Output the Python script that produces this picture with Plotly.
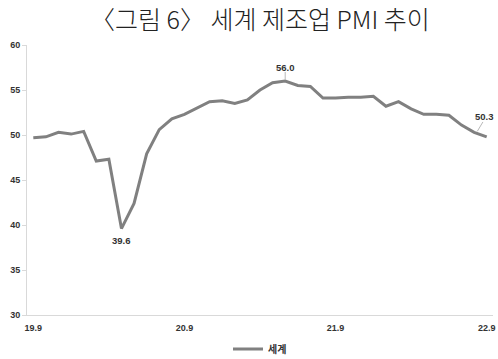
import plotly.graph_objects as go

# Global manufacturing PMI, monthly from 2019.9 to 2022.9
months = [
    "19.9", "19.10", "19.11", "19.12", "20.1", "20.2", "20.3", "20.4", "20.5",
    "20.6", "20.7", "20.8", "20.9", "20.10", "20.11", "20.12", "21.1", "21.2",
    "21.3", "21.4", "21.5", "21.6", "21.7", "21.8", "21.9", "21.10", "21.11",
    "21.12", "22.1", "22.2", "22.3", "22.4", "22.5", "22.6", "22.7", "22.8", "22.9",
]
pmi = [
    49.7, 49.8, 50.3, 50.1, 50.4, 47.1, 47.3, 39.6, 42.4,
    47.9, 50.6, 51.8, 52.3, 53.0, 53.7, 53.8, 53.5, 53.9,
    55.0, 55.8, 56.0, 55.5, 55.4, 54.1, 54.1, 54.2, 54.2,
    54.3, 53.2, 53.7, 52.9, 52.3, 52.3, 52.2, 51.1, 50.3, 49.8,
]
tick_labels = ["19.9", "20.9", "21.9", "22.9"]
y_ticks = [30, 35, 40, 45, 50, 55, 60]
# month -> (label shift in months, label shift in PMI points, leader line or None)
labelled = {
    "20.4": (0.0, -1.3, None),
    "21.5": (0.0, 1.5, ((0.0, 0.15), (0.0, 1.0))),
    "22.8": (0.85, 1.8, ((0.25, 0.1), (0.7, 1.15))),
}

idx = list(range(len(months)))
fig = go.Figure()
fig.add_trace(go.Scatter(
    x=idx, y=pmi, mode="lines", name="세계",
    line=dict(color="#808080", width=3),
))

for m, (dx, dy, leader) in labelled.items():
    i = months.index(m)
    fig.add_annotation(
        x=i + dx, y=pmi[i] + dy, text=f"{pmi[i]:.1f}",
        xref="x", yref="y", showarrow=False,
        xanchor="center", yanchor="middle",
        font=dict(family="Liberation Sans", size=9.5, color="#333333", weight="bold"),
    )
    if leader:
        (x0, y0), (x1, y1) = leader
        fig.add_shape(
            type="line", xref="x", yref="y",
            x0=i + x0, y0=pmi[i] + y0, x1=i + x1, y1=pmi[i] + y1,
            line=dict(color="#a6a6a6", width=0.8),
        )

tick_pos = [months.index(t) for t in tick_labels]
fig.update_layout(
    width=498, height=359,
    margin=dict(l=27, r=5, t=45, b=44, autoexpand=False),
    paper_bgcolor="white", plot_bgcolor="white",
    title=dict(
        text="〈그림 6〉 세계 제조업 PMI 추이",
        x=0.522, xanchor="center", y=0.945, yanchor="middle",
        font=dict(family="Noto Sans CJK KR", size=25, color="#222222", weight=300),
    ),
    xaxis=dict(
        range=[-0.5, len(months) - 0.5],
        tickvals=tick_pos, ticktext=tick_labels,
        showgrid=False, zeroline=False,
        showline=True, linecolor="#d9d9d9", linewidth=1,
        ticks="outside", ticklen=4, tickcolor="rgba(0,0,0,0)",
        tickfont=dict(family="Liberation Sans", size=9, color="#333333", weight="bold"),
    ),
    yaxis=dict(
        range=[30, 60], tickvals=y_ticks,
        showgrid=False, zeroline=False,
        showline=True, linecolor="#d9d9d9", linewidth=1,
        ticks="outside", ticklen=4, tickcolor="#d9d9d9",
        tickfont=dict(family="Liberation Sans", size=9, color="#333333", weight="bold"),
    ),
    showlegend=True,
    legend=dict(
        orientation="h", x=0.5, xanchor="center",
        yref="container", y=0.028, yanchor="middle",
        font=dict(family="Noto Sans CJK KR", size=10, color="#333333", weight="bold"),
        itemwidth=30,
    ),
)

fig.write_html("out.html")
